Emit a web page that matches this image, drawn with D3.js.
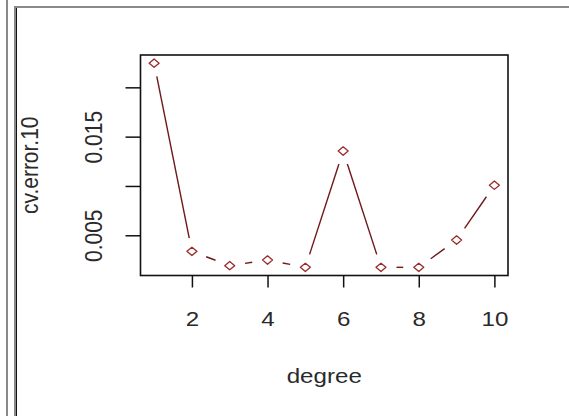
<!DOCTYPE html>
<html>
<head>
<meta charset="utf-8">
<script src="https://cdn.jsdelivr.net/npm/d3@7"></script>
<style>
  body { margin: 0; background: #fff; }
  svg { display: block; }
  text { font-family: "Liberation Sans", Arial, sans-serif; fill: #2a2a2a; }
</style>
</head>
<body>
<div id="chart"></div>
<script>
const width = 569;
const height = 416;

// data
const degree = [1, 2, 3, 4, 5, 6, 7, 8, 9, 10];
const cvError10 = [0.02245, 0.00337, 0.00192, 0.00249, 0.00175, 0.01354, 0.00175, 0.00175, 0.00452, 0.01008];
const xTicks = [2, 4, 6, 8, 10];
const yTicks = [0.005, 0.010, 0.015, 0.020];
const yTickLabels = ["0.005", "", "0.015", ""]; // R drops the overlapping ones

const xTitle = "degree";
const yTitle = "cv.error.10";

const stretch = 1.15; // the screenshot is a bit wider than tall
const box = { left: 140.5, right: 508, top: 55, bottom: 275.5 };
const lineCol = "#6e1818";
const pointCol = "#9a2a2a";

const svg = d3.select("#chart").append("svg").attr("width", width).attr("height", height);

// window frame lines
svg.append("line").attr("x1", 7).attr("x2", 7).attr("y1", 0).attr("y2", height)
  .attr("stroke", "#8a8a8a").attr("stroke-width", 2);
svg.append("line").attr("x1", 15).attr("x2", width).attr("y1", 7).attr("y2", 7)
  .attr("stroke", "#8a8a8a").attr("stroke-width", 2);
svg.append("line").attr("x1", 15).attr("x2", 15).attr("y1", 6).attr("y2", height)
  .attr("stroke", "#8a8a8a").attr("stroke-width", 2);
svg.append("line").attr("x1", 16.5).attr("x2", 16.5).attr("y1", 8).attr("y2", height)
  .attr("stroke", "#111").attr("stroke-width", 1);

// R-style 4% padding
const xExt = d3.extent(degree);
const yExt = d3.extent(cvError10);
const xPad = (xExt[1] - xExt[0]) * 0.04;
const yPad = (yExt[1] - yExt[0]) * 0.04;

const x = d3.scaleLinear().domain([xExt[0] - xPad, xExt[1] + xPad]).range([box.left, box.right]);
const y = d3.scaleLinear().domain([yExt[0] - yPad, yExt[1] + yPad]).range([box.bottom, box.top]);

// x axis
const gx = svg.append("g").attr("transform", `translate(0,${box.bottom})`)
  .call(d3.axisBottom(x).tickValues(xTicks).tickSize(12).tickFormat(d3.format("d")));
gx.select(".domain").remove();
gx.selectAll(".tick line").attr("stroke", "#111").attr("stroke-width", 1.5);
gx.selectAll(".tick text")
  .attr("y", null).attr("dy", null)
  .attr("fill", "#2a2a2a").attr("font-size", 21)
  .attr("font-family", "Liberation Sans, Arial, sans-serif")
  .attr("text-anchor", "middle")
  .attr("transform", `translate(0,${326 - box.bottom}) scale(${stretch},1)`);

// y axis
const gy = svg.append("g").attr("transform", `translate(${box.left},0)`)
  .call(d3.axisLeft(y).tickValues(yTicks).tickSize(15).tickFormat((d, i) => yTickLabels[i]));
gy.select(".domain").remove();
gy.selectAll(".tick line").attr("stroke", "#111").attr("stroke-width", 1.5);
gy.selectAll(".tick text")
  .attr("x", null).attr("dy", null)
  .attr("fill", "#2a2a2a").attr("font-size", 21)
  .attr("font-family", "Liberation Sans, Arial, sans-serif")
  .attr("text-anchor", "middle")
  .attr("transform", `translate(${101.5 - box.left},0) scale(${stretch},1) rotate(-90)`);

// plot box
svg.append("rect")
  .attr("x", box.left).attr("y", box.top)
  .attr("width", box.right - box.left).attr("height", box.bottom - box.top)
  .attr("fill", "none").attr("stroke", "#111").attr("stroke-width", 1.6);

// axis titles
svg.append("text")
  .attr("text-anchor", "middle").attr("font-size", 21)
  .attr("transform", `translate(${(box.left + box.right) / 2},383) scale(${stretch},1)`)
  .text(xTitle);

svg.append("text")
  .attr("text-anchor", "middle").attr("font-size", 21)
  .attr("transform", `translate(38,${(box.top + box.bottom) / 2}) scale(${stretch},1) rotate(-90)`)
  .text(yTitle);

// type = "b": segments with gaps round the points
const pts = degree.map((d, i) => [x(d), y(cvError10[i])]);
const gap = 13.5;
const segs = [];
for (let i = 0; i < pts.length - 1; i++) {
  const [x0, y0] = pts[i];
  const [x1, y1] = pts[i + 1];
  const dx = (x1 - x0) / stretch;
  const dy = y1 - y0;
  const len = Math.sqrt(dx * dx + dy * dy);
  if (len <= 2 * gap) continue;
  const t = gap / len;
  segs.push([x0 + (x1 - x0) * t, y0 + dy * t, x1 - (x1 - x0) * t, y1 - dy * t]);
}

svg.append("g").selectAll("line")
  .data(segs)
  .enter()
  .append("line")
  .attr("x1", (d) => d[0]).attr("y1", (d) => d[1])
  .attr("x2", (d) => d[2]).attr("y2", (d) => d[3])
  .attr("stroke", lineCol).attr("stroke-width", 1.4);

// open diamonds (pch = 5)
const hw = 5, hh = 4.2;
svg.append("g").selectAll("path")
  .data(pts)
  .enter()
  .append("path")
  .attr("d", (p) => `M${p[0] - hw},${p[1]}L${p[0]},${p[1] - hh}L${p[0] + hw},${p[1]}L${p[0]},${p[1] + hh}Z`)
  .attr("fill", "none").attr("stroke", pointCol).attr("stroke-width", 1.3)
  .attr("stroke-linejoin", "round");
</script>
</body>
</html>
